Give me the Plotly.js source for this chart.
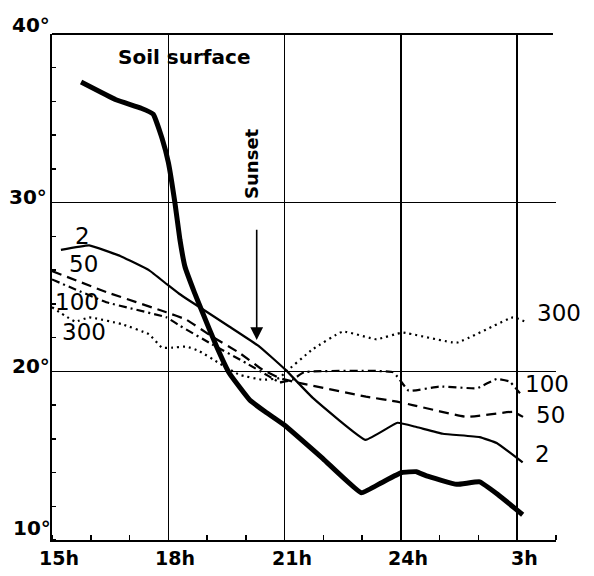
<!DOCTYPE html>
<html>
<head>
<meta charset="utf-8">
<script src="https://cdn.plot.ly/plotly-3.0.1.min.js"></script>
<style>html,body{margin:0;padding:0;background:#fff;}#chart{width:594px;height:576px;}</style>
</head>
<body>
<div id="chart"></div>
<script>
// Hours (15 = 15h, 27 = 3h next day), temperatures in °C
const soilX = [15.75, 16.65, 17.3, 17.61, 17.84, 18.0, 18.17, 18.3, 18.43, 18.67, 18.88, 19.24, 19.57, 20.1, 20.5, 21.0, 22.0, 22.98, 23.5, 24.02, 24.4, 24.66, 25.44, 26.03, 26.5, 27.14];
const soilY = [37.15, 36.1, 35.6, 35.25, 33.8, 32.4, 30.0, 27.8, 26.2, 24.7, 23.5, 21.5, 19.9, 18.3, 17.6, 16.8, 14.8, 12.8, 13.4, 14.0, 14.05, 13.8, 13.3, 13.45, 12.7, 11.5];

const d2X = [15.23, 15.96, 16.8, 17.5, 17.97, 18.28, 18.54, 19.57, 20.35, 21.02, 21.72, 23.09, 23.91, 24.4, 25.08, 26.03, 26.47, 27.14];
const d2Y = [27.2, 27.47, 26.8, 26.0, 25.15, 24.6, 24.2, 22.66, 21.47, 20.1, 18.44, 15.94, 16.95, 16.7, 16.3, 16.1, 15.75, 14.6];

const d50X = [15.0, 16.4, 17.95, 18.46, 19.13, 19.83, 20.43, 20.87, 21.2, 23.1, 23.9, 24.3, 25.7, 26.9, 27.15];
const d50Y = [25.95, 24.7, 23.5, 23.07, 22.06, 21.1, 20.1, 19.6, 19.4, 18.5, 18.2, 18.0, 17.3, 17.6, 17.3];

const d100X = [15.0, 16.4, 17.95, 18.3, 19.13, 20.0, 20.6, 20.87, 21.2, 21.5, 23.8, 24.2, 25.0, 25.96, 26.47, 26.8, 27.07];
const d100Y = [25.45, 24.1, 23.2, 22.7, 21.6, 20.5, 19.7, 19.35, 19.5, 19.95, 19.95, 18.85, 19.1, 19.0, 19.55, 19.4, 18.7];

const d300X = [15.0, 15.6, 15.96, 16.8, 17.5, 17.84, 18.1, 18.46, 18.8, 19.3, 19.83, 20.43, 20.87, 21.0, 21.72, 22.5, 23.37, 24.04, 25.44, 26.89, 27.25];
const d300Y = [23.8, 22.95, 23.2, 22.8, 22.2, 21.4, 21.4, 21.47, 21.2, 20.5, 19.8, 19.5, 19.6, 19.9, 21.3, 22.36, 21.9, 22.3, 21.7, 23.2, 22.9];

const xTickVals = [15, 18, 21, 24, 27];
const xTickText = ['15h', '18h', '21h', '24h', '3h'];
const yTickVals = [40, 30, 20, 10];
const yTickText = ['40°', '30°', '20°', '10°'];
const yTickShift = [9, 6, 5, 12];
const yTickXShift = [-21, -24, -21, -20];

const FONT = 'DejaVu Sans, sans-serif';

const line = (x, y, w, dash) => ({
  x: x, y: y, type: 'scatter', mode: 'lines',
  line: {color: '#000', width: w, dash: dash, shape: 'spline', smoothing: 0.3},
  hoverinfo: 'skip'
});

const traces = [
  line(soilX, soilY, 5, 'solid'),
  line(d2X, d2Y, 2.2, 'solid'),
  line(d50X, d50Y, 2.2, '10px,6px'),
  line(d100X, d100Y, 2.2, '8px,4px,2px,4px'),
  line(d300X, d300Y, 2.2, '2px,4px')
];

const ann = [];
xTickVals.forEach((v, i) => ann.push({
  x: v, y: 0, xref: 'x', yref: 'paper', text: xTickText[i], showarrow: false,
  xanchor: 'center', yanchor: 'middle',
  xshift: 7, yshift: -18, font: {family: FONT, size: 19, color: '#000', weight: 'bold'}
}));
yTickVals.forEach((v, i) => ann.push({
  x: 0, y: v, xref: 'paper', yref: 'y', text: yTickText[i], showarrow: false,
  xanchor: 'center', yanchor: 'middle',
  xshift: yTickXShift[i], yshift: yTickShift[i], font: {family: FONT, size: 20, color: '#000', weight: 'bold'}
}));

// curve labels (x in paper fraction for those right of the last gridline)
const curveLabels = [
  {t: '2', x: 0.06, y: 28.02}, {t: '50', x: 0.062, y: 26.36},
  {t: '100', x: 0.05, y: 24.11}, {t: '300', x: 0.063, y: 22.33},
  {t: '300', x: 1.006, y: 23.46}, {t: '100', x: 0.982, y: 19.25},
  {t: '50', x: 0.99, y: 17.41}, {t: '2', x: 0.974, y: 15.1}
];
curveLabels.forEach(c => ann.push({
  x: c.x, y: c.y, xref: 'paper', yref: 'y', text: c.t, showarrow: false,
  xanchor: 'center', yanchor: 'middle',
  font: {family: FONT, size: 23, color: '#000'}
}));

ann.push({x: 18.40, y: 38.63, xref: 'x', yref: 'y', text: 'Soil surface', showarrow: false,
  font: {family: FONT, size: 20, color: '#000', weight: 'bold'}});
ann.push({x: 20.13, y: 32.35, xref: 'x', yref: 'y', text: 'Sunset', showarrow: false, textangle: -90,
  font: {family: FONT, size: 18, color: '#000', weight: 'bold'}});
ann.push({x: 20.28, y: 21.86, ax: 20.28, ay: 28.49, xref: 'x', yref: 'y', axref: 'x', ayref: 'y',
  text: '', showarrow: true, arrowhead: 2, arrowsize: 1.6, arrowwidth: 1.6, arrowcolor: '#000'});

const layout = {
  width: 594, height: 576,
  margin: {l: 52, r: 38, t: 34, b: 36},
  paper_bgcolor: '#fff', plot_bgcolor: '#fff',
  showlegend: false,
  xaxis: {
    range: [15, 28], showline: true, linewidth: 2, linecolor: '#000',
    tickvals: [18, 21, 24, 27], showticklabels: false, ticks: '',
    showgrid: true, gridcolor: '#000', gridwidth: 1.5, zeroline: false,
    minor: {dtick: 1, tick0: 15, ticks: 'inside', ticklen: 5, tickwidth: 1.5, tickcolor: '#000', showgrid: false}
  },
  yaxis: {
    range: [10, 40], showline: true, linewidth: 2, linecolor: '#000',
    tickvals: [20, 30, 40], showticklabels: false, ticks: '',
    showgrid: true, gridcolor: '#000', gridwidth: 1.5, zeroline: false,
    minor: {dtick: 2, tick0: 10, ticks: 'inside', ticklen: 4, tickwidth: 1.5, tickcolor: '#000', showgrid: false}
  },
  shapes: [
    {type: 'line', xref: 'paper', yref: 'paper', x0: 0, x1: 0.994, y0: 1, y1: 1,
     line: {color: '#000', width: 2}}
  ],
  annotations: ann
};

Plotly.newPlot('chart', traces, layout, {staticPlot: true, displayModeBar: false});
</script>
</body>
</html>
